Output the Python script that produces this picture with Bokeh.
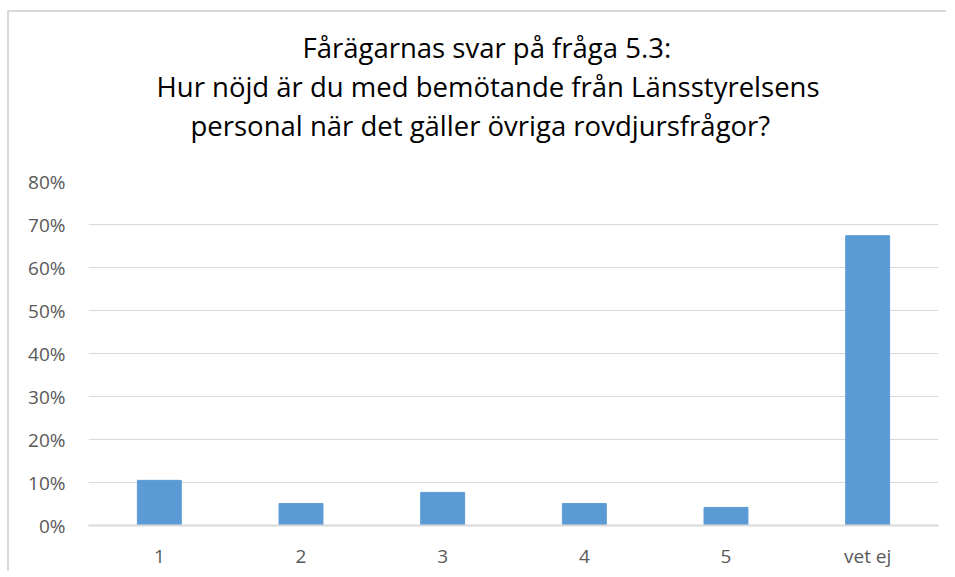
from bokeh.plotting import figure
from bokeh.models import Title, NumeralTickFormatter, FixedTicker
from bokeh.embed import file_html
from bokeh.resources import INLINE

categories = ["1", "2", "3", "4", "5", "vet ej"]
values = [0.105, 0.051, 0.077, 0.051, 0.042, 0.674]
y_ticks = [0, 0.1, 0.2, 0.3, 0.4, 0.5, 0.6, 0.7, 0.8]
title_lines = [
    "Fårägarnas svar på fråga 5.3:",
    "Hur nöjd är du med bemötande från Länsstyrelsens",
    "personal när det gäller övriga rovdjursfrågor?",
]

FONT = "Open Sans"
GREY = "#595959"

p = figure(x_range=categories, y_range=(0, 0.8),
           frame_width=850, frame_height=344,
           output_backend="svg", toolbar_location=None,
           min_border_left=79, min_border_right=8,
           min_border_top=169, min_border_bottom=40)

p.vbar(x=categories, top=values, width=0.31, color="#5b9bd5")

# spacer between the title block and the plot frame
p.add_layout(Title(text=" ", text_font=FONT, text_font_size="26px", standoff=0), "above")

# title lines: added bottom-up (later titles stack further from the frame)
left_offsets = [214, 68, 102]
for line, off in reversed(list(zip(title_lines, left_offsets))):
    p.add_layout(Title(text=line, align="left", offset=off,
                       text_font=FONT, text_font_size="27.5px",
                       text_font_style="normal", text_color="#000000",
                       standoff=0), "above")

p.outline_line_color = None
p.background_fill_color = "white"
p.border_fill_color = "white"
p.styles = {"margin-left": "7px", "margin-top": "10px",
            "border-left": "2px solid #d9d9d9", "border-top": "2px solid #d9d9d9"}

p.xgrid.grid_line_color = None
p.ygrid.grid_line_color = "#d9d9d9"
p.ygrid.grid_line_width = 1

p.yaxis.ticker = FixedTicker(ticks=y_ticks)
p.yaxis.formatter = NumeralTickFormatter(format="0%")
p.yaxis.axis_line_color = None
p.yaxis.major_tick_line_color = None
p.yaxis.minor_tick_line_color = None
p.yaxis.major_label_standoff = 17

p.xaxis.axis_line_color = "#d9d9d9"
p.xaxis.axis_line_width = 2
p.xaxis.major_tick_line_color = None
p.xaxis.major_label_standoff = 11

for ax in (p.xaxis, p.yaxis):
    ax.major_label_text_font = FONT
    ax.major_label_text_font_size = "19px"
    ax.major_label_text_color = GREY

open("out.html", "w").write(file_html(p, INLINE))
